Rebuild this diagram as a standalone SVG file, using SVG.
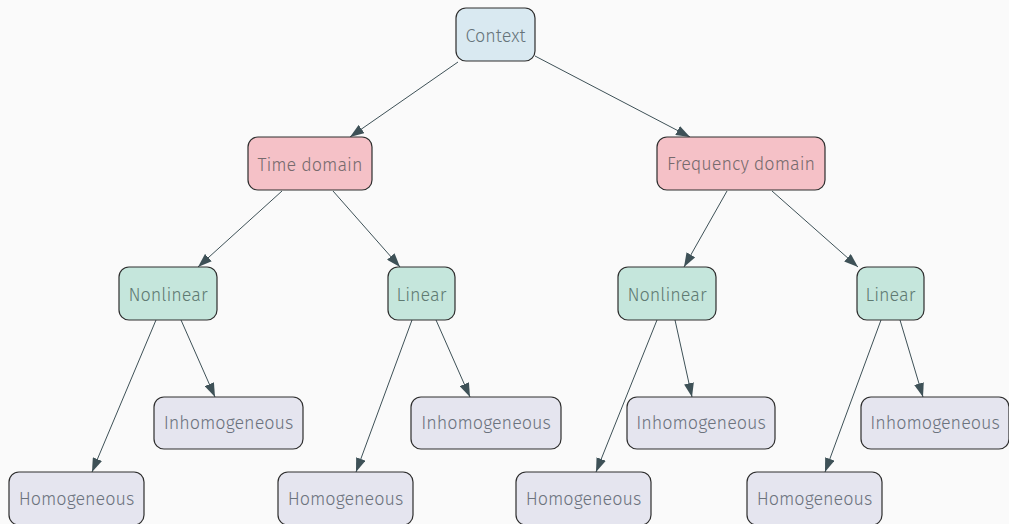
<svg xmlns="http://www.w3.org/2000/svg" width="1009" height="524" viewBox="0 0 1009 524">
<defs>
<marker id="ah" viewBox="0 0 14 10" refX="14" refY="5" markerWidth="14" markerHeight="10" markerUnits="userSpaceOnUse" orient="auto">
<path d="M0,0 L14,5 L0,10 Z" fill="#3e5157"/>
</marker>
<style>
.n rect{stroke:#2e2e2e;stroke-width:1.2}
.n text{font-family:"Fira Sans","Open Sans","Noto Sans",sans-serif;font-size:18px;font-weight:300;fill:#66747a;text-anchor:middle;dominant-baseline:central}
.root rect{fill:#d9e9f1}
.dom rect{fill:#f5c1c7}
.dom text{fill:#766a6d}
.lin rect{fill:#c5e6dc}
.lin text{fill:#5f7a72}
.leaf rect{fill:#e5e5ef}
.leaf text{fill:#6c737e}
#edges line{stroke:#3e5157;stroke-width:1;marker-end:url(#ah)}
</style>
</defs>
<rect width="1009" height="524" fill="#fafafa"/>
<g id="edges">
<line x1="458" y1="62" x2="350" y2="137"/>
<line x1="535" y1="56" x2="690" y2="137"/>
<line x1="282" y1="191" x2="198" y2="267"/>
<line x1="333" y1="191" x2="400" y2="267"/>
<line x1="727" y1="191" x2="684" y2="267"/>
<line x1="772" y1="191" x2="858" y2="267"/>
<line x1="156" y1="320" x2="92" y2="472"/>
<line x1="181" y1="320" x2="215" y2="397"/>
<line x1="412" y1="320" x2="356" y2="472"/>
<line x1="436" y1="320" x2="470" y2="397"/>
<line x1="657" y1="320" x2="596" y2="472"/>
<line x1="675" y1="320" x2="692" y2="397"/>
<line x1="881" y1="320" x2="825" y2="472"/>
<line x1="900" y1="320" x2="923" y2="397"/>
</g>
<g id="context" class="n root"><rect x="456" y="8" width="79" height="53" rx="10"/><text x="495.5" y="35.5">Context</text></g>
<g id="time" class="n dom"><rect x="248" y="137" width="124" height="53" rx="10"/><text x="310" y="164.5">Time domain</text></g>
<g id="freq" class="n dom"><rect x="657" y="137" width="168" height="53" rx="10"/><text x="741" y="163.5">Frequency domain</text></g>
<g id="t-nonlin" class="n lin"><rect x="119" y="267" width="98" height="53" rx="10"/><text x="168" y="294.5">Nonlinear</text></g>
<g id="t-lin" class="n lin"><rect x="388" y="267" width="67" height="53" rx="10"/><text x="421.5" y="294.5">Linear</text></g>
<g id="f-nonlin" class="n lin"><rect x="618" y="267" width="98" height="53" rx="10"/><text x="667" y="294.5">Nonlinear</text></g>
<g id="f-lin" class="n lin"><rect x="857" y="267" width="67" height="53" rx="10"/><text x="890.5" y="294.5">Linear</text></g>
<g id="tn-homo" class="n leaf"><rect x="9" y="472" width="135" height="53" rx="10"/><text x="76.5" y="498.5">Homogeneous</text></g>
<g id="tn-inhomo" class="n leaf"><rect x="154" y="397" width="149" height="52" rx="10"/><text x="228.5" y="423">Inhomogeneous</text></g>
<g id="tl-homo" class="n leaf"><rect x="278" y="472" width="135" height="53" rx="10"/><text x="345.5" y="498.5">Homogeneous</text></g>
<g id="tl-inhomo" class="n leaf"><rect x="411" y="397" width="150" height="52" rx="10"/><text x="486" y="423">Inhomogeneous</text></g>
<g id="fn-homo" class="n leaf"><rect x="516" y="472" width="135" height="53" rx="10"/><text x="583.5" y="498.5">Homogeneous</text></g>
<g id="fn-inhomo" class="n leaf"><rect x="627" y="397" width="148" height="52" rx="10"/><text x="701" y="423">Inhomogeneous</text></g>
<g id="fl-homo" class="n leaf"><rect x="747" y="472" width="135" height="53" rx="10"/><text x="814.5" y="498.5">Homogeneous</text></g>
<g id="fl-inhomo" class="n leaf"><rect x="861" y="397" width="148" height="52" rx="10"/><text x="935" y="423">Inhomogeneous</text></g>
</svg>
